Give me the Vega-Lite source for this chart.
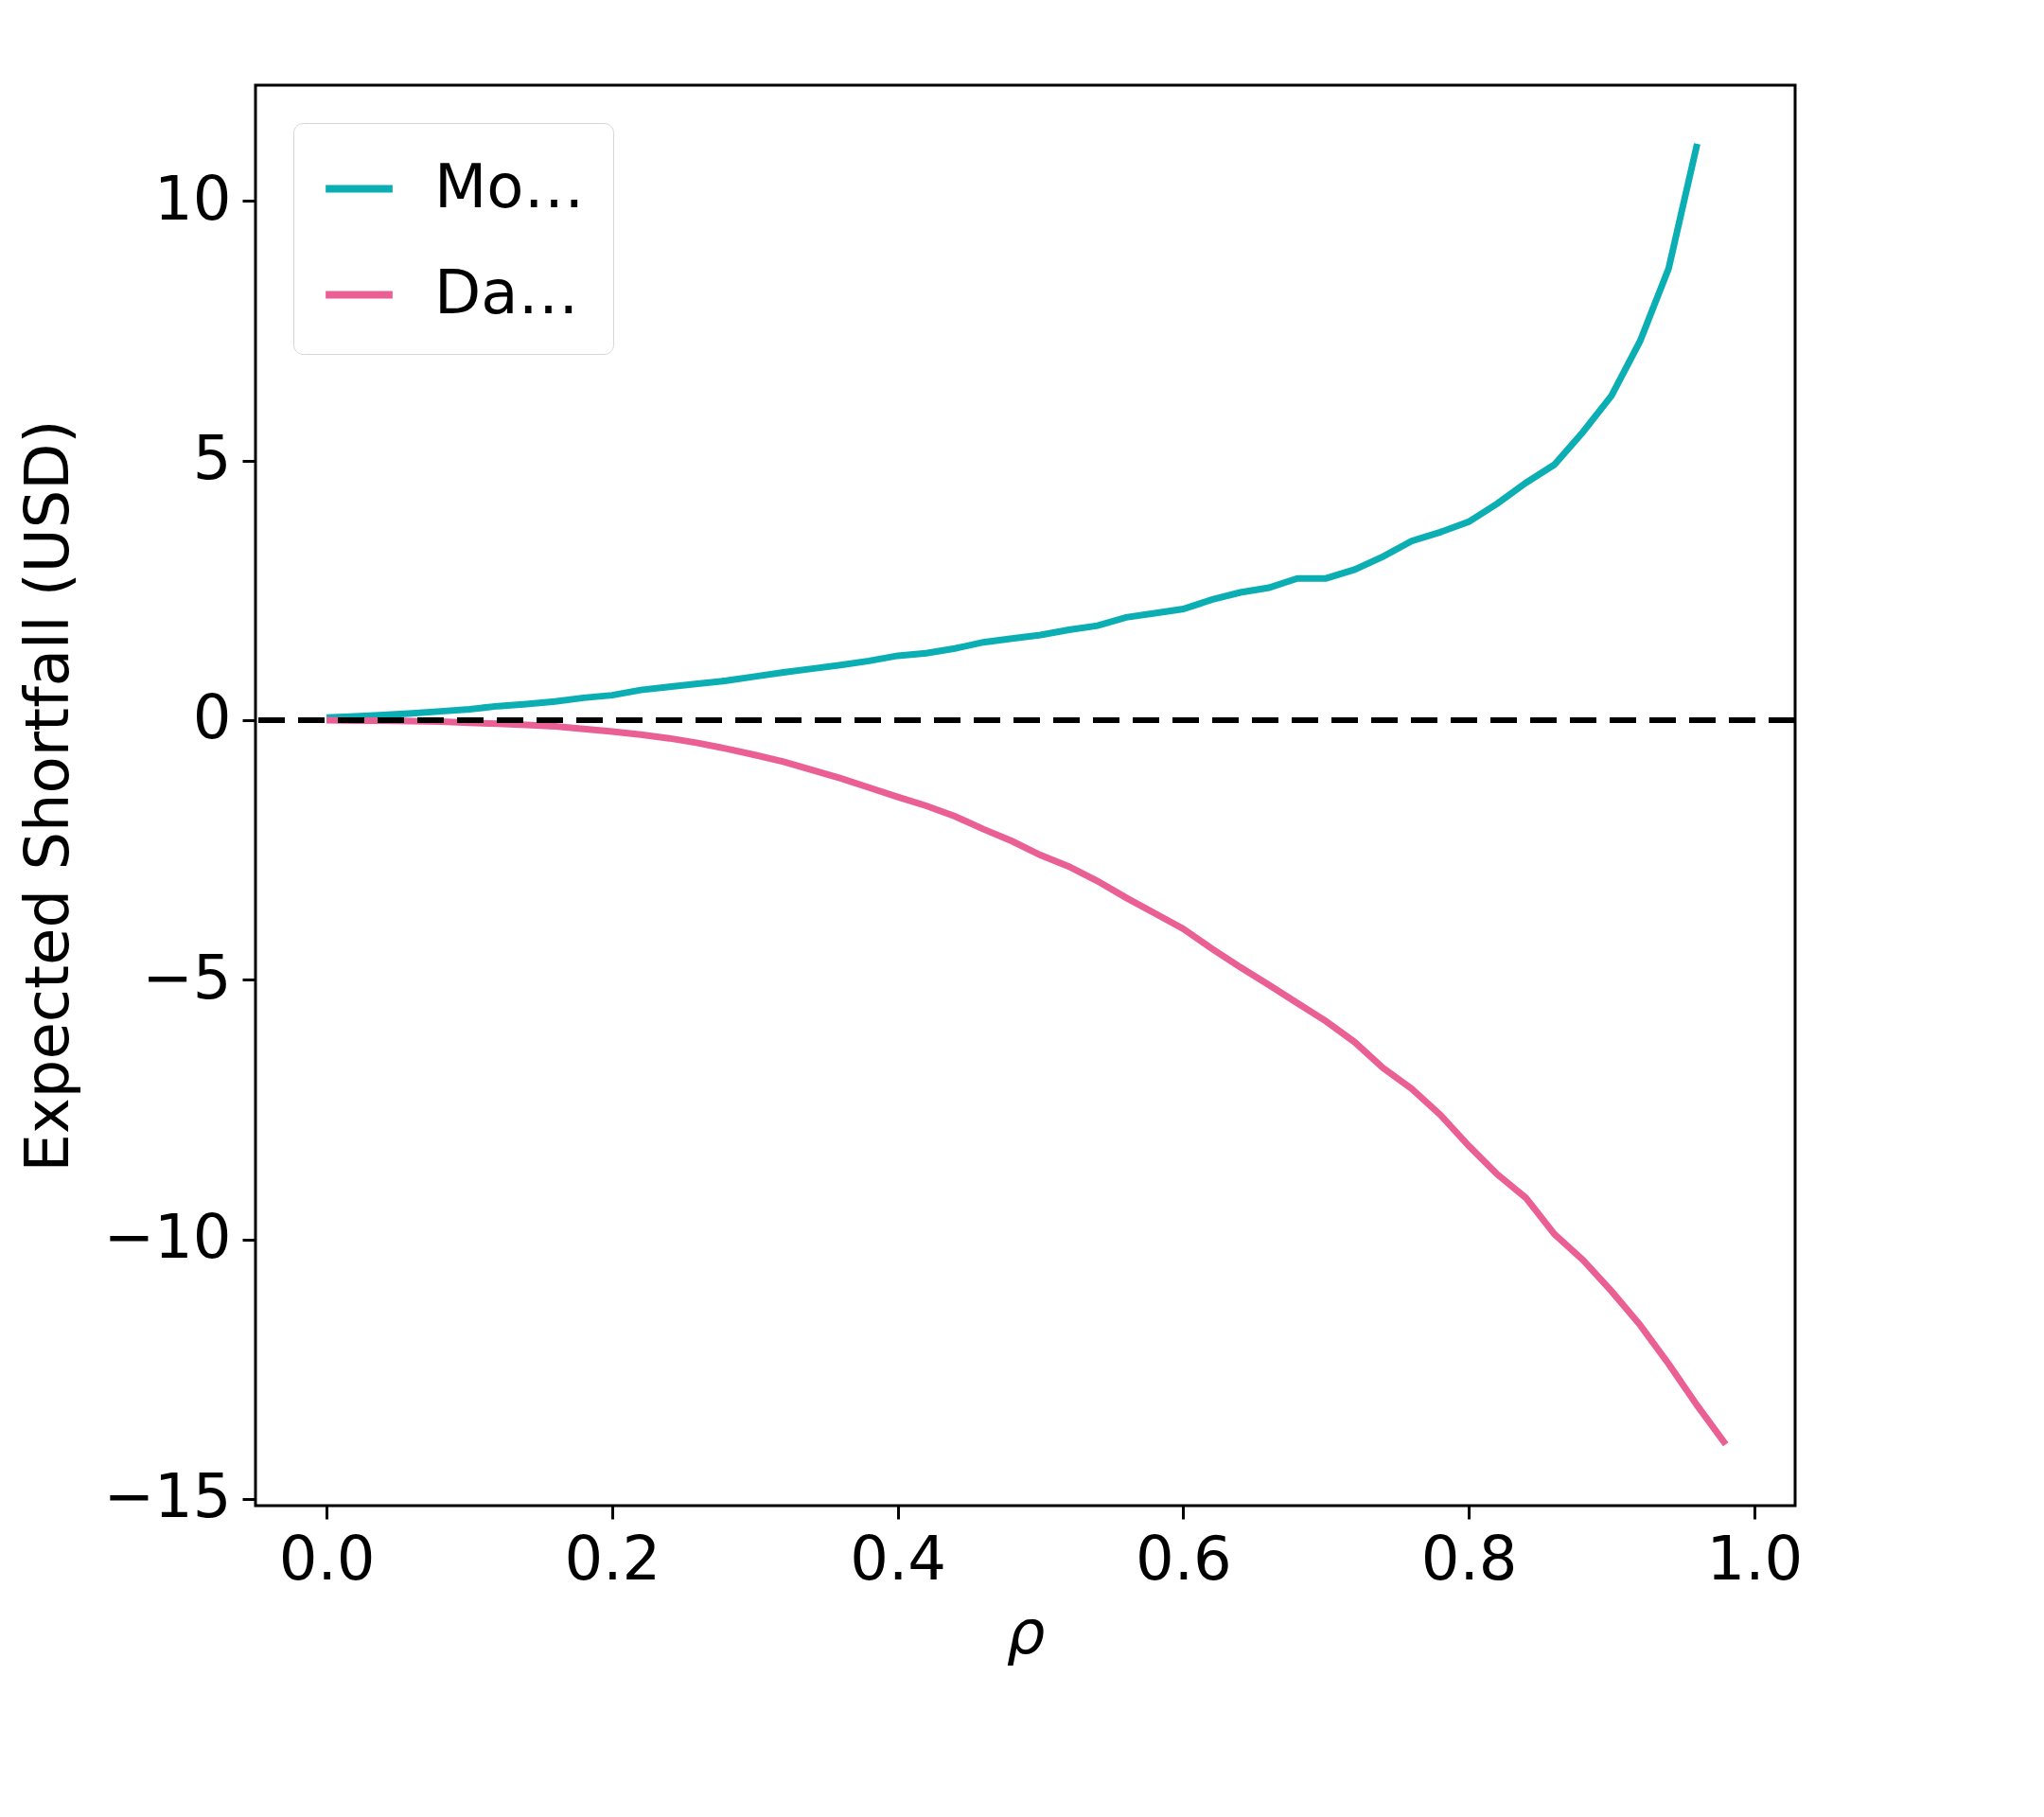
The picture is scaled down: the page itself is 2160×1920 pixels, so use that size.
{
"$schema":"https://vega.github.io/schema/vega-lite/v6.json",
"width":1627,"height":1501,
"padding":{"left":20,"top":90,"right":60,"bottom":20},
"background":"white",
"config":{"view":{"stroke":"black","strokeWidth":3},"font":"DejaVu Sans"},
"layer":[
{"data":{"values":[
{"x":0,"s":"Model-Centric","v":0.05},{"x":0.02,"s":"Model-Centric","v":0.07},{"x":0.04,"s":"Model-Centric","v":0.1},{"x":0.06,"s":"Model-Centric","v":0.13},{"x":0.08,"s":"Model-Centric","v":0.17},{"x":0.1,"s":"Model-Centric","v":0.21},{"x":0.12,"s":"Model-Centric","v":0.27},{"x":0.14,"s":"Model-Centric","v":0.31},{"x":0.16,"s":"Model-Centric","v":0.36},{"x":0.18,"s":"Model-Centric","v":0.43},{"x":0.2,"s":"Model-Centric","v":0.48},{"x":0.22,"s":"Model-Centric","v":0.58},{"x":0.24,"s":"Model-Centric","v":0.64},{"x":0.26,"s":"Model-Centric","v":0.7},{"x":0.28,"s":"Model-Centric","v":0.76},{"x":0.3,"s":"Model-Centric","v":0.84},{"x":0.32,"s":"Model-Centric","v":0.92},{"x":0.34,"s":"Model-Centric","v":0.99},{"x":0.36,"s":"Model-Centric","v":1.06},{"x":0.38,"s":"Model-Centric","v":1.14},{"x":0.4,"s":"Model-Centric","v":1.24},{"x":0.42,"s":"Model-Centric","v":1.29},{"x":0.44,"s":"Model-Centric","v":1.38},{"x":0.46,"s":"Model-Centric","v":1.5},{"x":0.48,"s":"Model-Centric","v":1.57},{"x":0.5,"s":"Model-Centric","v":1.64},{"x":0.52,"s":"Model-Centric","v":1.74},{"x":0.54,"s":"Model-Centric","v":1.82},{"x":0.56,"s":"Model-Centric","v":1.98},{"x":0.58,"s":"Model-Centric","v":2.06},{"x":0.6,"s":"Model-Centric","v":2.14},{"x":0.62,"s":"Model-Centric","v":2.32},{"x":0.64,"s":"Model-Centric","v":2.46},{"x":0.66,"s":"Model-Centric","v":2.55},{"x":0.68,"s":"Model-Centric","v":2.73},{"x":0.7,"s":"Model-Centric","v":2.73},{"x":0.72,"s":"Model-Centric","v":2.9},{"x":0.74,"s":"Model-Centric","v":3.15},{"x":0.76,"s":"Model-Centric","v":3.45},{"x":0.78,"s":"Model-Centric","v":3.62},{"x":0.8,"s":"Model-Centric","v":3.82},{"x":0.82,"s":"Model-Centric","v":4.17},{"x":0.84,"s":"Model-Centric","v":4.57},{"x":0.86,"s":"Model-Centric","v":4.92},{"x":0.88,"s":"Model-Centric","v":5.55},{"x":0.9,"s":"Model-Centric","v":6.25},{"x":0.92,"s":"Model-Centric","v":7.3},{"x":0.94,"s":"Model-Centric","v":8.7},{"x":0.96,"s":"Model-Centric","v":11.1},
{"x":0,"s":"Data-Centric","v":0},{"x":0.02,"s":"Data-Centric","v":-0.01},{"x":0.04,"s":"Data-Centric","v":-0.01},{"x":0.06,"s":"Data-Centric","v":-0.02},{"x":0.08,"s":"Data-Centric","v":-0.03},{"x":0.1,"s":"Data-Centric","v":-0.05},{"x":0.12,"s":"Data-Centric","v":-0.07},{"x":0.14,"s":"Data-Centric","v":-0.09},{"x":0.16,"s":"Data-Centric","v":-0.12},{"x":0.18,"s":"Data-Centric","v":-0.17},{"x":0.2,"s":"Data-Centric","v":-0.22},{"x":0.22,"s":"Data-Centric","v":-0.28},{"x":0.24,"s":"Data-Centric","v":-0.35},{"x":0.26,"s":"Data-Centric","v":-0.44},{"x":0.28,"s":"Data-Centric","v":-0.55},{"x":0.3,"s":"Data-Centric","v":-0.67},{"x":0.32,"s":"Data-Centric","v":-0.8},{"x":0.34,"s":"Data-Centric","v":-0.96},{"x":0.36,"s":"Data-Centric","v":-1.12},{"x":0.38,"s":"Data-Centric","v":-1.3},{"x":0.4,"s":"Data-Centric","v":-1.48},{"x":0.42,"s":"Data-Centric","v":-1.65},{"x":0.44,"s":"Data-Centric","v":-1.85},{"x":0.46,"s":"Data-Centric","v":-2.1},{"x":0.48,"s":"Data-Centric","v":-2.33},{"x":0.5,"s":"Data-Centric","v":-2.6},{"x":0.52,"s":"Data-Centric","v":-2.82},{"x":0.54,"s":"Data-Centric","v":-3.1},{"x":0.56,"s":"Data-Centric","v":-3.42},{"x":0.58,"s":"Data-Centric","v":-3.72},{"x":0.6,"s":"Data-Centric","v":-4.02},{"x":0.62,"s":"Data-Centric","v":-4.4},{"x":0.64,"s":"Data-Centric","v":-4.76},{"x":0.66,"s":"Data-Centric","v":-5.1},{"x":0.68,"s":"Data-Centric","v":-5.45},{"x":0.7,"s":"Data-Centric","v":-5.8},{"x":0.72,"s":"Data-Centric","v":-6.2},{"x":0.74,"s":"Data-Centric","v":-6.7},{"x":0.76,"s":"Data-Centric","v":-7.1},{"x":0.78,"s":"Data-Centric","v":-7.6},{"x":0.8,"s":"Data-Centric","v":-8.2},{"x":0.82,"s":"Data-Centric","v":-8.75},{"x":0.84,"s":"Data-Centric","v":-9.2},{"x":0.86,"s":"Data-Centric","v":-9.9},{"x":0.88,"s":"Data-Centric","v":-10.4},{"x":0.9,"s":"Data-Centric","v":-11.0},{"x":0.92,"s":"Data-Centric","v":-11.65},{"x":0.94,"s":"Data-Centric","v":-12.4},{"x":0.96,"s":"Data-Centric","v":-13.2},{"x":0.98,"s":"Data-Centric","v":-13.95}
]},
 "mark":{"type":"line","strokeWidth":7,"clip":true},
 "encoding":{
  "x":{"field":"x","type":"quantitative","scale":{"domain":[-0.0498,1.0286],"nice":false,"zero":false},
   "axis":{"values":[0,0.2,0.4,0.6,0.8,1.0],"format":".1f","title":"ρ","titleFontStyle":"italic","titleFontWeight":"normal","titleFontSize":64,"labelFontSize":64,"labelColor":"black","titleColor":"black","grid":false,"domain":false,"tickSize":14,"tickWidth":3,"tickColor":"black","labelPadding":12,"titlePadding":14}},
  "y":{"field":"v","type":"quantitative","scale":{"domain":[-15.13,12.23],"nice":false,"zero":false},
   "axis":{"values":[-15,-10,-5,0,5,10],"title":"Expected Shortfall (USD)","titleFontWeight":"normal","titleFontSize":64,"labelFontSize":64,"labelColor":"black","titleColor":"black","grid":false,"domain":false,"tickSize":14,"tickWidth":3,"tickColor":"black","labelPadding":12,"titlePadding":24}},
  "color":{"field":"s","type":"nominal",
   "scale":{"domain":["Model-Centric","Data-Centric"],"range":["#0aaeb3","#ea5f94"]},
   "legend":{"title":null,"orient":"top-left","offset":40,"labelFontSize":64,"labelColor":"black","symbolType":"stroke","symbolStrokeWidth":8,"symbolSize":5000,"rowPadding":40,"padding":30,"strokeColor":"#d6d6d6","cornerRadius":10,"fillColor":"white","labelOffset":40}}
 }},
{"data":{"values":[{"y":0}]},"mark":{"type":"rule","color":"black","strokeWidth":6,"strokeDash":[28,14]},
 "encoding":{"y":{"field":"y","type":"quantitative"}}}
]}
